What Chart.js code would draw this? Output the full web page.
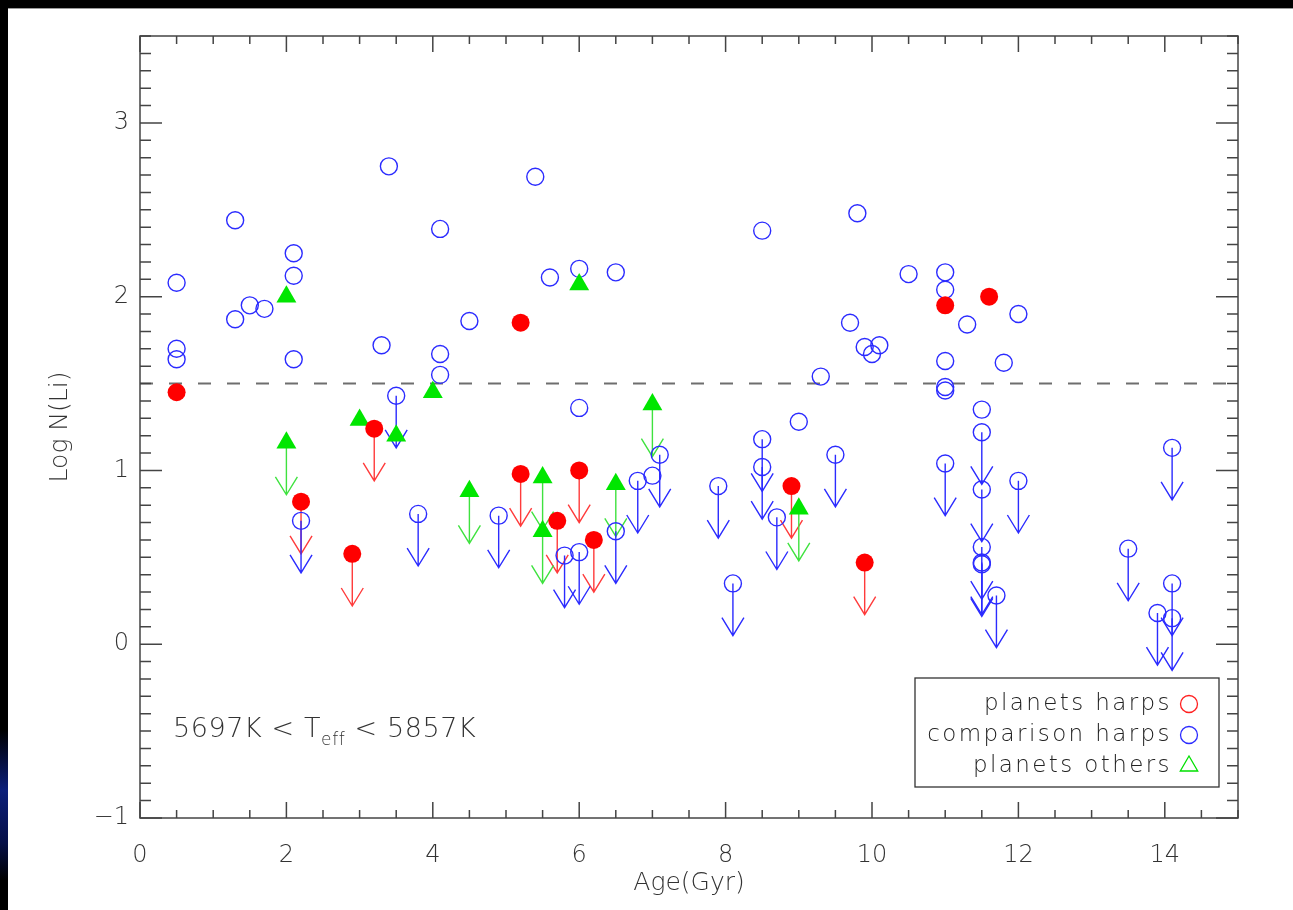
<!DOCTYPE html>
<html>
<head>
<meta charset="utf-8">
<title>Li vs Age</title>
<script src="https://cdn.jsdelivr.net/npm/chart.js@4.4.1/dist/chart.umd.min.js"></script>
<style>
  html, body { margin: 0; padding: 0; width: 1293px; height: 910px; overflow: hidden; background: #000; }
  #glow { position: absolute; left: 0; top: 730px; width: 8px; height: 150px;
          background: linear-gradient(#000, #0c1f7a 40%, #061048 75%, #000); }
  #sheet { position: absolute; left: 8px; top: 8px; width: 1285px; height: 902px; background: #fff;
           box-shadow: inset 0 1px 0 #9a9a9a; }
  canvas { display: block; }
</style>
</head>
<body>
<div id="glow"></div>
<div id="sheet"><canvas id="liChart" width="1285" height="902"></canvas></div>
<script>
// planets harps (filled red circles)
const harpsPlanetAge = [0.5, 2.2, 2.9, 3.2, 5.2, 5.2, 5.7, 6.0, 6.2, 8.9, 9.9, 11.0, 11.6];
const harpsPlanetLi  = [1.45, 0.82, 0.52, 1.24, 1.85, 0.98, 0.71, 1.00, 0.60, 0.91, 0.47, 1.95, 2.00];
const harpsPlanetLim = [0, 1, 1, 1, 0, 1, 1, 1, 1, 1, 1, 0, 0];

// comparison harps (open blue circles)
const compAge = [0.5, 0.5, 0.5, 1.3, 1.3, 1.5, 1.7, 2.1, 2.1, 2.1, 2.2, 3.3, 3.4, 3.5, 3.8,
                 4.1, 4.1, 4.1, 4.5, 4.9, 5.4, 5.6, 5.8, 6.0, 6.0, 6.0, 6.5, 6.5, 6.8, 7.0,
                 7.1, 7.9, 8.1, 8.5, 8.5, 8.5, 8.7, 9.0, 9.3, 9.5, 9.7, 9.8, 9.9, 10.0, 10.1,
                 10.5, 11.0, 11.0, 11.0, 11.0, 11.0, 11.0, 11.3, 11.5, 11.5, 11.5, 11.5, 11.5, 11.5,
                 11.7, 11.8, 12.0, 12.0, 13.5, 13.9, 14.1, 14.1, 14.1];
const compLi  = [2.08, 1.70, 1.64, 2.44, 1.87, 1.95, 1.93, 2.25, 2.12, 1.64, 0.71, 1.72, 2.75, 1.43, 0.75,
                 2.39, 1.67, 1.55, 1.86, 0.74, 2.69, 2.11, 0.51, 2.16, 1.36, 0.53, 2.14, 0.65, 0.94, 0.97,
                 1.09, 0.91, 0.35, 2.38, 1.18, 1.02, 0.73, 1.28, 1.54, 1.09, 1.85, 2.48, 1.71, 1.67, 1.72,
                 2.13, 2.14, 2.04, 1.63, 1.48, 1.46, 1.04, 1.84, 1.35, 1.22, 0.89, 0.56, 0.47, 0.46,
                 0.28, 1.62, 1.90, 0.94, 0.55, 0.18, 1.13, 0.35, 0.15];
const compLim = [0, 0, 0, 0, 0, 0, 0, 0, 0, 0, 1, 0, 0, 1, 1,
                 0, 0, 0, 0, 1, 0, 0, 1, 0, 0, 1, 0, 1, 1, 0,
                 1, 1, 1, 0, 1, 1, 1, 0, 0, 1, 0, 0, 0, 0, 0,
                 0, 0, 0, 0, 0, 0, 1, 0, 0, 1, 1, 1, 1, 1,
                 1, 0, 0, 1, 1, 1, 1, 1, 1];

// planets others (filled green triangles)
const otherPlanetAge = [2.0, 2.0, 3.0, 3.5, 4.0, 4.5, 5.5, 5.5, 6.0, 6.5, 7.0, 9.0];
const otherPlanetLi  = [2.00, 1.16, 1.29, 1.20, 1.45, 0.88, 0.96, 0.65, 2.07, 0.92, 1.38, 0.78];
const otherPlanetLim = [0, 1, 0, 0, 0, 1, 1, 1, 0, 1, 1, 1];

const liLimitLine = 1.5;
const xTickLabels = [0, 2, 4, 6, 8, 10, 12, 14];
const yTickLabels = [-1, 0, 1, 2, 3];

const ARROW_DEX = 0.3;
const FONT = "'DejaVu Sans ExtraLight', 'DejaVu Sans', 'Liberation Sans', sans-serif";
const INK = '#333';

const toPoints = (xs, ys) => xs.map((x, i) => ({ x: x, y: ys[i] }));
const near = (v, list) => list.some(t => Math.abs(v - t) < 1e-6);

// upper limit arrows, drawn under the symbols
const upperLimits = {
  id: 'upperLimits',
  beforeDatasetsDraw(chart) {
    const { ctx, scales: { x, y } } = chart;
    chart.data.datasets.forEach(ds => {
      if (!ds.limit) return;
      ctx.save();
      ctx.strokeStyle = ds.arrowColor;
      ctx.lineWidth = 1.4;
      ds.data.forEach((p, i) => {
        if (!ds.limit[i]) return;
        const px = x.getPixelForValue(p.x);
        const y0 = y.getPixelForValue(p.y);
        const y1 = y.getPixelForValue(p.y - ARROW_DEX);
        ctx.beginPath();
        ctx.moveTo(px, y0);
        ctx.lineTo(px, y1);
        ctx.moveTo(px - 11, y1 - 18);
        ctx.lineTo(px, y1);
        ctx.lineTo(px + 11, y1 - 18);
        ctx.stroke();
      });
      ctx.restore();
    });
  }
};

// IDL style box with inward ticks on all four sides
const idlFrame = {
  id: 'idlFrame',
  afterDraw(chart) {
    const { ctx, chartArea: a, scales: { x, y } } = chart;
    ctx.save();
    ctx.strokeStyle = '#444';
    ctx.lineWidth = 1.5;
    ctx.strokeRect(a.left, a.top, a.right - a.left, a.bottom - a.top);
    ctx.beginPath();
    x.ticks.forEach(t => {
      const px = x.getPixelForValue(t.value);
      const len = near(t.value, xTickLabels) ? 16 : 8;
      ctx.moveTo(px, a.bottom); ctx.lineTo(px, a.bottom - len);
      ctx.moveTo(px, a.top); ctx.lineTo(px, a.top + len);
    });
    y.ticks.forEach(t => {
      const py = y.getPixelForValue(t.value);
      const len = near(t.value, yTickLabels) ? 22 : 11;
      ctx.moveTo(a.left, py); ctx.lineTo(a.left + len, py);
      ctx.moveTo(a.right, py); ctx.lineTo(a.right - len, py);
    });
    ctx.stroke();
    ctx.restore();
  }
};

// legend box and temperature annotation
const idlLegend = {
  id: 'idlLegend',
  afterDraw(chart) {
    const { ctx, chartArea: a } = chart;
    ctx.save();
    ctx.strokeStyle = '#333';
    ctx.lineWidth = 1.3;
    ctx.strokeRect(a.right - 323, a.bottom - 140, 304, 109);
    const rows = [
      { text: 'planets harps', color: '#ff2020', shape: 'circle' },
      { text: 'comparison harps', color: '#2b2bff', shape: 'circle' },
      { text: 'planets others', color: '#00e000', shape: 'triangle' }
    ];
    ctx.font = "200 23px " + FONT;
    ctx.letterSpacing = '2.4px';
    ctx.fillStyle = '#222';
    ctx.textAlign = 'right';
    ctx.textBaseline = 'middle';
    rows.forEach((r, i) => {
      const cy = a.bottom - 114 + i * 31;
      ctx.fillText(r.text, a.right - 66, cy);
      const cx = a.right - 49;
      ctx.strokeStyle = r.color;
      ctx.lineWidth = 1.3;
      ctx.beginPath();
      if (r.shape === 'circle') {
        ctx.arc(cx, cy, 8.5, 0, Math.PI * 2);
      } else {
        ctx.moveTo(cx, cy - 10);
        ctx.lineTo(cx + 8.7, cy + 5);
        ctx.lineTo(cx - 8.7, cy + 5);
        ctx.closePath();
      }
      ctx.stroke();
    });

    ctx.letterSpacing = '0.6px';
    ctx.fillStyle = INK;
    ctx.textAlign = 'left';
    ctx.textBaseline = 'alphabetic';
    let tx = a.left + 33;
    const ty = a.bottom - 81;
    const parts = [['5697K < T', 27, 0], ['eff', 17, 8], [' < 5857K', 27, 0]];
    parts.forEach(([s, size, drop]) => {
      ctx.font = '200 ' + size + 'px ' + FONT;
      ctx.fillText(s, tx, ty + drop);
      tx += ctx.measureText(s).width;
    });
    ctx.restore();
  }
};

const ctx = document.getElementById('liChart').getContext('2d');
new Chart(ctx, {
  type: 'scatter',
  data: {
    datasets: [
      {
        label: 'planets harps',
        data: toPoints(harpsPlanetAge, harpsPlanetLi),
        limit: harpsPlanetLim,
        arrowColor: '#ff3b3b',
        pointStyle: 'circle',
        pointRadius: 9,
        backgroundColor: '#ff0000',
        borderColor: '#ff0000',
        borderWidth: 0,
        order: 0
      },
      {
        label: 'planets others',
        data: toPoints(otherPlanetAge, otherPlanetLi),
        limit: otherPlanetLim,
        arrowColor: '#3fe23f',
        pointStyle: 'triangle',
        pointRadius: 11.5,
        backgroundColor: '#00e600',
        borderColor: '#00e600',
        borderWidth: 0,
        order: 1
      },
      {
        label: 'comparison harps',
        data: toPoints(compAge, compLi),
        limit: compLim,
        arrowColor: '#2b2bff',
        pointStyle: 'circle',
        pointRadius: 8.5,
        backgroundColor: 'rgba(0,0,0,0)',
        borderColor: '#2b2bff',
        borderWidth: 1.4,
        order: 2
      },
      {
        label: 'limit',
        data: [{ x: 0, y: liLimitLine }, { x: 15, y: liLimitLine }],
        showLine: true,
        borderColor: '#6e6e6e',
        borderWidth: 2,
        borderDash: [13, 16],
        pointRadius: 0,
        order: 3
      }
    ]
  },
  options: {
    responsive: false,
    animation: false,
    events: [],
    layout: { padding: { left: 32, top: 28, right: 55, bottom: 12 } },
    plugins: { legend: { display: false }, tooltip: { enabled: false } },
    scales: {
      x: {
        type: 'linear',
        min: 0,
        max: 15,
        grid: { display: false, drawTicks: false },
        border: { display: false },
        ticks: {
          stepSize: 0.5,
          autoSkip: false,
          maxRotation: 0,
          padding: 23,
          color: INK,
          font: { family: FONT, size: 24, weight: 200 },
          callback: v => near(v, xTickLabels) ? String(Math.round(v)) : ''
        },
        title: {
          display: true,
          text: 'Age(Gyr)',
          color: INK,
          font: { family: FONT, size: 25, weight: 200 },
          padding: { top: 0, bottom: 0 }
        },
        afterFit(s) { s.height = 80; }
      },
      y: {
        type: 'linear',
        min: -1,
        max: 3.5,
        grid: { display: false, drawTicks: false },
        border: { display: false },
        ticks: {
          stepSize: 0.1,
          autoSkip: false,
          padding: 11,
          color: INK,
          font: { family: FONT, size: 24, weight: 200 },
          callback: v => {
            if (!near(v, yTickLabels)) return '';
            const n = Math.round(v);
            return n < 0 ? '\u2212' + Math.abs(n) : String(n);
          }
        },
        title: {
          display: true,
          text: 'Log N(Li)',
          color: INK,
          font: { family: FONT, size: 25, weight: 200 },
          padding: { top: 5, bottom: 0 }
        },
        afterFit(s) { s.width = 100; }
      }
    }
  },
  plugins: [upperLimits, idlFrame, idlLegend]
});
</script>
</body>
</html>
